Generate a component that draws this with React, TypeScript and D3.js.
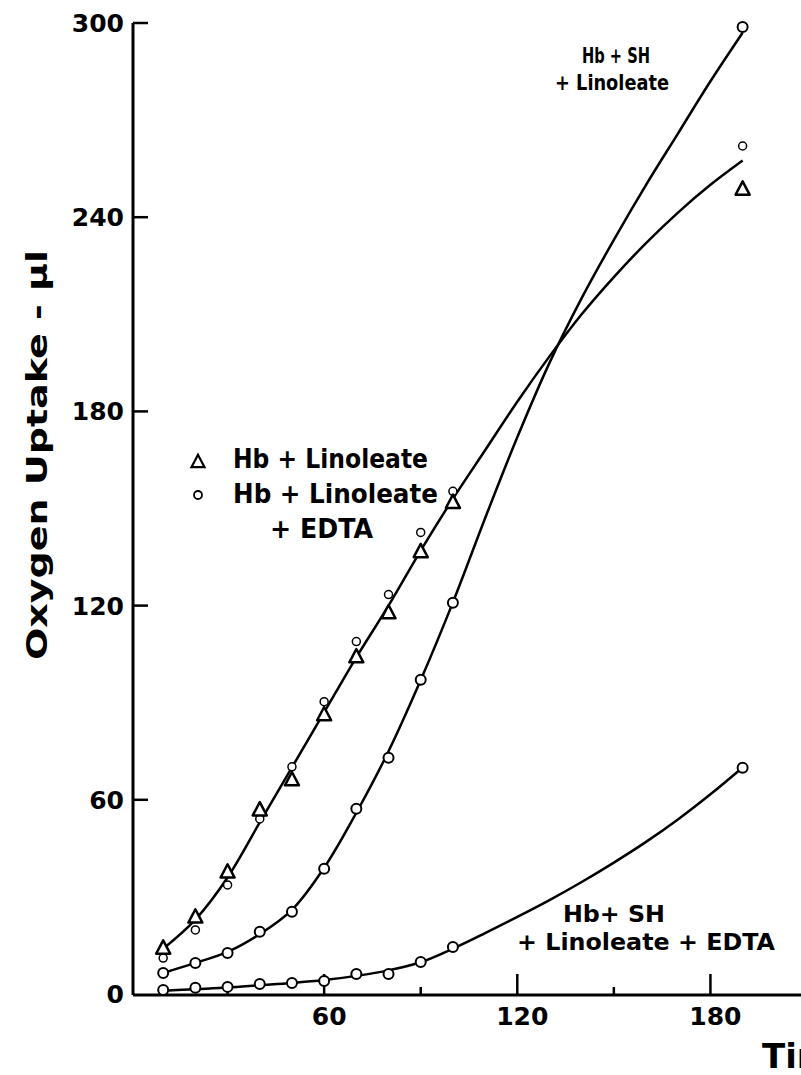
import React from 'react';
import * as d3 from 'd3';

const W = 801;
const H = 1075;

// Measured points (time in min, oxygen uptake in µl)
const TIME_POINTS = [10, 20, 30, 40, 50, 60, 70, 80, 90, 100, 190];
const HB_LINOLEATE = [14.2, 23.8, 37.7, 56.9, 66.2, 86.3, 104.2, 117.8, 136.7, 151.9, 248.7];
const HB_LINOLEATE_EDTA = [11.1, 19.8, 33.7, 54.1, 70.2, 90.3, 108.9, 123.4, 142.6, 155.3, 262];
const HB_SH_LINOLEATE = [6.5, 9.6, 12.7, 19.2, 25.4, 38.7, 57.2, 73, 97.1, 120.9, 298.8];
const HB_SH_LINOLEATE_EDTA = [1.2, 1.9, 2.2, 3.1, 3.4, 4.0, 6.2, 6.2, 9.9, 14.5, 69.9];

// Hand-drawn fitted curves
const FIT_TIME = [10, 20, 30, 40, 50, 60, 70, 80, 90, 100, 110, 120, 130, 140, 150, 160, 170, 180, 190];
const FIT_HB_LIN = [14, 23, 36, 53, 70, 87, 104, 120, 137, 153, 168, 183, 197, 210, 221.5, 232, 241.5, 250, 257.5];
const FIT_HB_SH_LIN = [6.5, 9.6, 13, 18.5, 26, 39, 56, 75, 97, 121, 147, 172, 195, 215, 233, 250, 266, 282, 297];
const FIT_HB_SH_LIN_EDTA = [1, 1.5, 2, 2.7, 3.4, 4.3, 5.6, 7.3, 9.8, 14, 18.8, 23.8, 29, 34.6, 40.6, 47, 54, 61.7, 70];

const Y_TICKS = [0, 60, 120, 180, 240, 300];
const X_MAJOR = [60, 120, 180];
const X_MINOR = [30, 90, 150, 210];

const FONT = "'DejaVu Sans', sans-serif";

export default function App() {
  const x = d3.scaleLinear().domain([0, 210]).range([131, 807]);
  const y = d3.scaleLinear().domain([0, 300]).range([994, 23]);
  const axisX = x(0) + 2;
  const axisY = y(0) + 1;

  const line = d3
    .line<[number, number]>()
    .x((d) => x(d[0]))
    .y((d) => y(d[1]))
    .curve(d3.curveCatmullRom.alpha(0.5));

  const fits = [FIT_HB_LIN, FIT_HB_SH_LIN, FIT_HB_SH_LIN_EDTA];

  const tri = (cx: number, cy: number, s: number) =>
    `M${cx},${cy - s * 0.55} L${cx - s / 2},${cy + s * 0.4} L${cx + s / 2},${cy + s * 0.4} Z`;

  return (
    <svg
      width={W}
      height={H}
      style={{ position: 'absolute', left: 0, top: 0, background: '#fff' }}
      fontFamily={FONT}
    >
      <rect x={0} y={0} width={W} height={H} fill="#fff" />
      {/* axes */}
      <line x1={axisX} y1={y(300)} x2={axisX} y2={axisY} stroke="#000" strokeWidth={3} />
      <line x1={axisX} y1={axisY} x2={W} y2={axisY} stroke="#000" strokeWidth={3} />
      {Y_TICKS.filter((t) => t > 0).map((t) => (
        <line key={'yt' + t} x1={axisX} x2={axisX + 15} y1={y(t)} y2={y(t)} stroke="#000" strokeWidth={2.5} />
      ))}
      {Y_TICKS.map((t) => (
        <text key={'yl' + t} x={124} y={y(t) + 9} textAnchor="end" fontSize={25} fontWeight="bold">
          {t}
        </text>
      ))}
      {X_MAJOR.map((t) => (
        <line key={'xt' + t} x1={x(t)} x2={x(t)} y1={axisY} y2={axisY - 21} stroke="#000" strokeWidth={2.5} />
      ))}
      {X_MINOR.map((t) => (
        <line key={'xm' + t} x1={x(t)} x2={x(t)} y1={axisY} y2={axisY - 8} stroke="#000" strokeWidth={2.5} />
      ))}
      {X_MAJOR.map((t) => (
        <text key={'xl' + t} x={x(t) + 5} y={1025} textAnchor="middle" fontSize={25} fontWeight="bold">
          {t}
        </text>
      ))}
      <text x={762} y={1068} fontSize={34} fontWeight="bold">
        Time - min
      </text>
      <text
        transform="translate(47,660) rotate(-90)"
        x={0}
        y={0}
        fontSize={28}
        fontWeight="bold"
        textLength={410}
        lengthAdjust="spacingAndGlyphs"
      >
        Oxygen Uptake - µl
      </text>

      {/* fitted curves */}
      {fits.map((f, i) => (
        <path
          key={'fit' + i}
          d={line(FIT_TIME.map((t, j) => [t, f[j]] as [number, number])) || ''}
          fill="none"
          stroke="#000"
          strokeWidth={2.5}
        />
      ))}

      {/* points */}
      {TIME_POINTS.map((t, i) => (
        <circle key={'e' + i} cx={x(t)} cy={y(HB_LINOLEATE_EDTA[i])} r={4} fill="#fff" stroke="#000" strokeWidth={1.5} />
      ))}
      {TIME_POINTS.map((t, i) => (
        <path key={'t' + i} d={tri(x(t), y(HB_LINOLEATE[i]), 14)} fill="#fff" stroke="#000" strokeWidth={2.5} strokeLinejoin="round" />
      ))}
      {TIME_POINTS.map((t, i) => (
        <circle key={'s' + i} cx={x(t)} cy={y(HB_SH_LINOLEATE[i])} r={5} fill="#fff" stroke="#000" strokeWidth={2} />
      ))}
      {TIME_POINTS.map((t, i) => (
        <circle key={'se' + i} cx={x(t)} cy={y(HB_SH_LINOLEATE_EDTA[i])} r={5} fill="#fff" stroke="#000" strokeWidth={2} />
      ))}

      {/* legend */}
      <path d={tri(198, 462, 13)} fill="#fff" stroke="#000" strokeWidth={2.2} />
      <text x={233} y={468} fontSize={26} fontWeight="bold" textLength={195} lengthAdjust="spacingAndGlyphs">
        Hb + Linoleate
      </text>
      <circle cx={198} cy={495} r={4} fill="#fff" stroke="#000" strokeWidth={1.8} />
      <text x={233} y={503} fontSize={26} fontWeight="bold" textLength={205} lengthAdjust="spacingAndGlyphs">
        Hb + Linoleate
      </text>
      <text x={270} y={538} fontSize={26} fontWeight="bold" textLength={103} lengthAdjust="spacingAndGlyphs">
        + EDTA
      </text>

      {/* annotations */}
      <text x={582} y={63} fontSize={21} fontWeight="bold" textLength={68} lengthAdjust="spacingAndGlyphs">
        Hb + SH
      </text>
      <text x={555} y={90} fontSize={21} fontWeight="bold" textLength={114} lengthAdjust="spacingAndGlyphs">
        + Linoleate
      </text>
      <text x={563} y={922} fontSize={23} fontWeight="bold" textLength={102} lengthAdjust="spacingAndGlyphs">
        Hb+ SH
      </text>
      <text x={517} y={950} fontSize={23} fontWeight="bold" textLength={258} lengthAdjust="spacingAndGlyphs">
        + Linoleate + EDTA
      </text>
    </svg>
  );
}
